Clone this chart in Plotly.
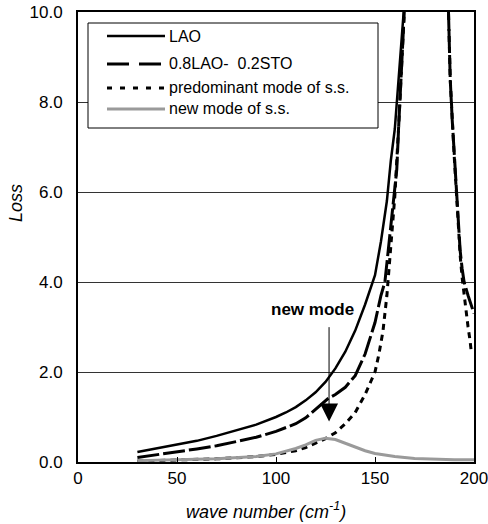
import plotly.graph_objects as go

# LAO (solid)
lao_x = [30, 40, 50, 60, 70, 80, 90, 100, 105, 110, 115, 120, 125, 130, 135, 140, 145, 150, 153, 156, 158, 160, 162, 164, 165]
lao_y = [0.22, 0.3, 0.38, 0.47, 0.58, 0.7, 0.83, 1.0, 1.1, 1.22, 1.37, 1.55, 1.78, 2.08, 2.45, 2.92, 3.5, 4.15, 4.9, 5.8, 6.7, 7.4, 8.5, 9.7, 10.3]

# 0.8LAO-0.2STO (long dash), two visible branches
mix_x = [30, 40, 50, 60, 70, 80, 90, 100, 110, 115, 120, 123, 126, 130, 135, 140, 145, 150, 153, 155, 157, 159, 161, 162, 163, 164, 165,
         None,
         187, 188, 189, 190, 191, 192, 193, 194, 195, 197, 199, 200]
mix_y = [0.1, 0.16, 0.22, 0.29, 0.36, 0.45, 0.55, 0.68, 0.85, 0.98, 1.18, 1.3, 1.4, 1.5, 1.66, 1.92, 2.4, 3.1, 3.7, 4.0, 4.8, 5.6, 6.5, 7.5, 8.3, 9.2, 10.2,
         None,
         10.2, 8.5, 7.6, 6.8, 6.0, 5.3, 4.7, 4.3, 4.0, 3.7, 3.4, 3.3]

# predominant mode of s.s. (short dash)
pre_x = [30, 50, 70, 90, 100, 110, 115, 120, 125, 130, 135, 140, 145, 148, 150, 152, 154, 156, 158, 160, 162, 163, 164, 165,
         None,
         187, 188, 190, 191, 192, 193, 194, 195, 196, 197, 198, 198.5]
pre_y = [0.02, 0.04, 0.07, 0.12, 0.17, 0.25, 0.32, 0.42, 0.52, 0.65, 0.85, 1.1, 1.5, 1.8, 2.0, 2.4, 2.9, 3.7, 4.9, 5.9, 7.5, 8.4, 9.3, 10.2,
         None,
         10.2, 8.5, 6.8, 6.0, 5.2, 4.6, 4.1, 3.7, 3.3, 3.0, 2.7, 2.5]

# new mode of s.s. (gray)
new_x = [30, 50, 70, 90, 100, 110, 115, 120, 125, 130, 135, 140, 145, 150, 160, 170, 180, 190, 200]
new_y = [0.03, 0.05, 0.07, 0.12, 0.18, 0.3, 0.38, 0.48, 0.53, 0.5, 0.42, 0.33, 0.25, 0.19, 0.12, 0.08, 0.06, 0.05, 0.05]

names = ["LAO", "0.8LAO-  0.2STO", "predominant mode of s.s.", "new mode of s.s."]

x_ticks = [0, 50, 100, 150, 200]
y_ticks = [0, 2, 4, 6, 8, 10]
y_tick_text = ["0.0", "2.0", "4.0", "6.0", "8.0", "10.0"]

W, H = 488, 524
ML, MR, MT, MB = 78, 14, 12, 62
PW, PH = W - ML - MR, H - MT - MB


def px_x(p):
    return (p - ML) / PW


def px_y(p):
    return 1 - (p - MT) / PH


styles = [
    dict(color="black", width=2.5),
    dict(color="black", width=3, dash="22px,4px"),
    dict(color="black", width=3, dash="6px,5px"),
    dict(color="#9a9a9a", width=3),
]
legend_styles = [
    dict(color="black", width=2.5),
    dict(color="black", width=3, dash="22px,10px"),
    dict(color="black", width=3, dash="5px,8px"),
    dict(color="#9a9a9a", width=3),
]

fig = go.Figure()
for xs, ys, nm, st in zip([lao_x, mix_x, pre_x, new_x], [lao_y, mix_y, pre_y, new_y], names, styles):
    fig.add_trace(go.Scatter(x=xs, y=ys, mode="lines", name=nm, line=st, showlegend=False))

# custom legend box
fig.add_shape(type="rect", xref="paper", yref="paper",
              x0=px_x(88), x1=px_x(378), y0=px_y(128), y1=px_y(23),
              line=dict(color="black", width=1), fillcolor="white", layer="above")
legend_rows = [36, 64, 88, 109]
for nm, st, ry in zip(names, legend_styles, legend_rows):
    fig.add_shape(type="line", xref="paper", yref="paper",
                  x0=px_x(107), x1=px_x(165), y0=px_y(ry), y1=px_y(ry), line=st, layer="above")
    fig.add_annotation(x=px_x(167), y=px_y(ry), xref="paper", yref="paper", text=nm,
                       xanchor="left", yanchor="middle", showarrow=False, font=dict(size=16, color="black"))

fig.add_annotation(x=126.8, y=0.9, ax=126.8, ay=3.03, xref="x", yref="y", axref="x", ayref="y",
                   text="", showarrow=True, arrowhead=2, arrowsize=3.6, arrowwidth=1, arrowcolor="black")
fig.add_annotation(x=118.2, y=3.39, xref="x", yref="y", text="<b>new mode</b>", showarrow=False,
                   font=dict(size=17, color="black"))

# axis titles
fig.add_annotation(x=px_x(265.5), y=px_y(510), xref="paper", yref="paper",
                   text="<i>wave number (cm<sup>-1</sup>)</i>", showarrow=False,
                   xanchor="center", yanchor="middle", font=dict(size=18, color="black"))
fig.add_annotation(x=px_x(16), y=px_y(203), xref="paper", yref="paper",
                   text="<i>Loss</i>", showarrow=False, textangle=-90,
                   xanchor="center", yanchor="middle", font=dict(size=18, color="black"))

fig.update_layout(
    width=W, height=H,
    margin=dict(l=ML, r=MR, t=MT, b=MB),
    paper_bgcolor="white", plot_bgcolor="white",
    font=dict(family="Liberation Sans, Arial, sans-serif", size=17, color="black"),
    showlegend=False,
    xaxis=dict(range=[0, 200], tickvals=x_ticks, ticks="inside", ticklen=5, tickcolor="black",
               showgrid=False, zeroline=False, showline=True, linecolor="black", linewidth=2, mirror=True,
               automargin=False, tickfont=dict(size=17), ticklabeloverflow="allow"),
    yaxis=dict(range=[0, 10], tickvals=y_ticks, ticktext=y_tick_text, ticks="",
               showgrid=True, gridcolor="#333333", gridwidth=1, zeroline=False,
               showline=True, linecolor="black", linewidth=2, mirror=True,
               ticklabelstandoff=10, automargin=False, tickfont=dict(size=17)),
)

fig.write_html("out.html")
